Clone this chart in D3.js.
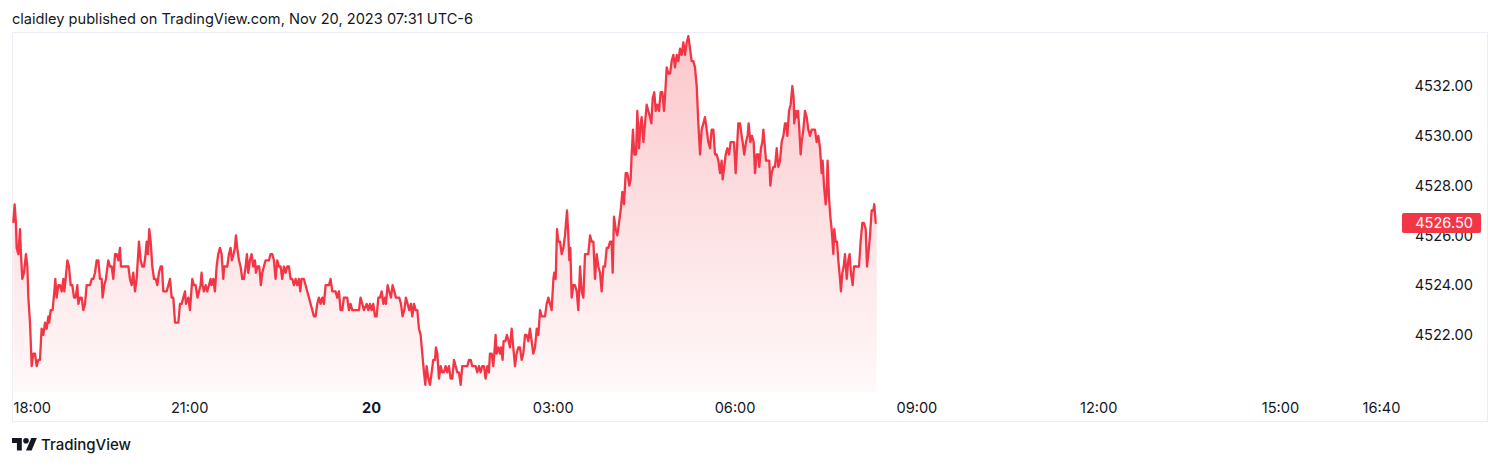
<!DOCTYPE html>
<html><head><meta charset="utf-8">
<script src="https://cdn.jsdelivr.net/npm/d3@7"></script>
<style>
html,body{margin:0;padding:0;background:#fff;}
svg{display:block;font-family:Inter,"Noto Sans",sans-serif;}
</style></head><body>
<svg id="c" width="1500" height="466"></svg>
<script>
const headerText = "claidley published on TradingView.com, Nov 20, 2023 07:31 UTC-6";
const brandText = "TradingView";
const priceTicks = [4522, 4524, 4526, 4528, 4530, 4532];
// minutes after Nov 19 18:00
const timeTicks = [0, 180, 360, 540, 720, 900, 1080, 1260, 1360];
const timeTickLabels = ["18:00", "21:00", "20", "03:00", "06:00", "09:00", "12:00", "15:00", "16:40"];
const boldTicks = ["20"];
const lastPrice = 4526.50;
// [minutes after 18:00, price]
const bars = [
[5.9,4526.5],[7.2,4527.25],[8.5,4526.5],[9.2,4525.5],[10.9,4525.25],[12.5,4526.25],[13.5,4525.25],[14.8,4524.25],[16.5,4524.5],[18.4,4525.25],
[19.8,4524.75],[20.8,4523.5],[22.4,4522.5],[24.1,4520.75],[25.7,4521.25],[27.4,4521.25],[29.0,4520.75],[30.7,4521],[32.3,4521],[33.9,4522.25],
[35.6,4522],[37.3,4522.5],[38.9,4522.25],[40.6,4522.75],[41.5,4522.5],[42.9,4523],[44.8,4523],[46.5,4523.75],[47.5,4524.25],[48.8,4523.5],
[50.5,4524],[52.1,4524],[53.8,4523.75],[55.4,4524.25],[56.4,4523.75],[57.7,4524.25],[59.4,4525],[61.0,4524.75],[62.7,4524],[64.3,4524],
[66.0,4523.5],[67.6,4523.5],[69.3,4524],[70.3,4523.25],[71.9,4523.5],[73.6,4523.5],[75.2,4523],[76.9,4523.25],[78.5,4524],[80.2,4524],
[81.8,4524],[83.5,4524.25],[85.1,4524.25],[86.8,4524.5],[88.4,4525],[90.1,4525],[91.7,4524.25],[93.4,4524.25],[94.3,4523.5],[96.0,4524],
[97.6,4524.25],[99.9,4525],[101.6,4524.75],[103.3,4524.75],[104.9,4524.25],[106.6,4525.25],[108.2,4525.25],[109.9,4525],[111.5,4525.5],[112.5,4524.75],
[114.8,4524.75],[118.1,4524.75],[119.8,4524.75],[121.4,4524.25],[123.1,4524],[124.7,4524.5],[126.4,4523.75],[128.0,4524.25],[130.3,4525.75],[132.0,4525],
[133.6,4524.75],[135.3,4524.75],[136.9,4525.25],[137.9,4525.75],[139.2,4525.25],[140.5,4526.25],[141.9,4525.75],[143.5,4524.75],[145.2,4524.25],[146.8,4524.25],
[148.5,4524],[150.1,4524.5],[151.8,4524.75],[153.1,4524.75],[154.4,4523.75],[157.7,4523.75],[159.4,4524],[161.0,4524.25],[162.7,4523.5],[164.3,4523.5],
[166.0,4522.5],[167.6,4522.5],[169.3,4522.5],[170.9,4523.25],[172.6,4523.25],[174.2,4523.5],[175.9,4523.75],[176.8,4523.25],[179.2,4523.5],[180.8,4523],
[183.1,4524.25],[184.7,4524],[186.4,4524],[188.3,4523.5],[189.7,4523.75],[191.3,4524],[192.3,4524.5],[193.3,4524],[194.6,4523.75],[196.3,4524],
[197.9,4523.75],[199.6,4524],[201.2,4524.25],[202.2,4524],[203.9,4524.25],[205.5,4523.75],[207.2,4524.75],[208.8,4525.25],[210.5,4525.5],[212.1,4525.25],
[213.8,4524.25],[214.7,4524.75],[216.4,4524.75],[217.7,4524.75],[219.4,4525.25],[221.0,4525.5],[222.3,4525],[224.0,4525.25],[225.3,4525.5],[226.3,4526],
[227.6,4525.5],[229.3,4525],[230.9,4524.75],[232.6,4524.25],[234.2,4524.25],[235.9,4524.75],[237.2,4525.25],[238.5,4524.5],[240.2,4525],[241.8,4525.25],
[243.5,4524.75],[245.1,4525],[246.1,4524.5],[247.7,4524.75],[249.4,4524.75],[251.0,4524],[252.4,4524.5],[254.0,4524.75],[255.7,4525],[257.3,4525],
[259.0,4525],[260.6,4525.25],[262.3,4525.25],[263.9,4525],[265.6,4524.25],[267.2,4525],[268.9,4524.75],[270.5,4524.75],[272.2,4524.25],[273.8,4524.75],
[275.5,4524.5],[277.1,4524.75],[278.8,4524.75],[280.4,4524.25],[282.1,4524.25],[283.7,4524],[285.4,4524.25],[287.0,4524],[288.7,4524.25],[290.0,4523.75],
[291.3,4524.25],[293.6,4524.25],[295.3,4524],[296.9,4523.75],[298.6,4523.5],[300.2,4523.25],[301.9,4523],[303.5,4522.75],[305.2,4522.75],[306.8,4523.25],
[308.5,4523.5],[310.1,4523.25],[311.8,4523.5],[313.4,4523.25],[315.1,4524],[316.7,4524],[318.4,4524],[320.0,4524.25],[321.7,4523.75],[323.3,4523.75],
[325.0,4523.75],[326.6,4523.5],[328.3,4523.75],[329.9,4523],[331.6,4523],[333.2,4523.5],[334.9,4523.5],[336.5,4523.5],[338.2,4523],[339.8,4523.25],
[341.5,4523],[343.1,4523],[344.8,4523],[346.4,4523],[348.1,4523],[349.7,4523.5],[351.4,4523.25],[353.0,4523],[355.7,4523.25],[357.4,4523],
[359.0,4523.25],[360.7,4523],[362.3,4523.25],[364.0,4522.75],[365.6,4522.75],[367.3,4523.5],[368.9,4523.5],[370.6,4523.75],[372.2,4523.25],[373.9,4523.5],
[374.8,4523.25],[376.5,4524],[378.1,4523.75],[379.8,4523.5],[381.4,4524],[383.1,4523.75],[384.7,4523.5],[386.4,4523.5],[388.0,4523.5],[389.7,4523.25],
[391.3,4522.75],[393.0,4523],[394.6,4523.5],[396.3,4523.25],[397.9,4523],[399.6,4523.25],[400.9,4522.75],[402.6,4523.25],[404.2,4523],[405.9,4523],
[407.5,4522.25],[409.2,4522],[410.8,4521.25],[412.5,4520.5],[413.8,4520],[415.1,4520.75],[416.8,4520.25],[418.4,4520],[420.1,4520.5],[421.7,4521],
[423.4,4521],[424.3,4521.5],[425.7,4521.25],[427.3,4520.25],[429.0,4520.75],[430.6,4520.5],[432.3,4520.5],[433.9,4520.75],[435.6,4520.5],[437.2,4520.75],
[438.9,4520.25],[440.5,4520.25],[442.2,4521],[443.8,4520.75],[445.5,4520.5],[447.1,4520.5],[448.8,4520],[450.4,4520.75],[452.1,4520.75],[453.7,4520.75],
[455.4,4520.75],[457.0,4521],[458.7,4521],[460.3,4520.75],[462.0,4520.75],[463.6,4520.75],[465.3,4520.5],[466.9,4520.75],[468.6,4520.5],[470.2,4520.75],
[471.9,4520.75],[473.5,4520.25],[475.2,4520.75],[476.8,4520.5],[477.8,4521.25],[479.5,4521.25],[481.1,4520.75],[482.1,4521.25],[483.4,4522],[484.4,4521.25],
[486.1,4521.5],[487.7,4521.25],[488.7,4521.5],[490.3,4521],[491.3,4521.75],[493.0,4521.75],[494.6,4522],[496.3,4521.75],[497.6,4521.5],[499.3,4522.25],
[500.9,4521.5],[502.6,4520.75],[504.2,4521.25],[505.9,4521.5],[507.5,4521.5],[509.2,4521],[510.8,4521.25],[512.5,4522],[514.1,4522],[515.8,4521.75],
[517.4,4522.25],[519.1,4521.75],[520.7,4521.25],[522.4,4521.5],[524.1,4522.25],[525.7,4522],[527.4,4523],[529.0,4522.75],[530.7,4522.75],[532.3,4522.75],
[534.0,4523.25],[535.6,4523.5],[537.3,4523.25],[538.9,4523],[540.6,4524.25],[541.5,4524.5],[542.9,4524.25],[544.2,4526.25],[545.5,4525.75],[547.2,4525.75],
[548.8,4525.25],[550.5,4525.5],[552.1,4526],[554.1,4527],[555.4,4526],[556.4,4525],[557.4,4525.5],[558.7,4523.5],[560.4,4524],[562.0,4524],
[563.7,4523.75],[565.3,4523],[567.0,4524.75],[568.6,4523.75],[570.3,4523.5],[571.9,4525.25],[573.6,4525.25],[575.2,4525.25],[576.9,4526],[578.5,4525.75],
[580.2,4525.75],[581.8,4524.25],[583.5,4525.25],[585.1,4524.75],[586.8,4524.5],[588.4,4523.75],[590.1,4524.75],[591.7,4524.75],[593.4,4525.5],[595.0,4525.5],
[596.7,4525.75],[598.3,4525.75],[599.3,4524.5],[600.6,4526.75],[602.3,4526.25],[603.9,4526],[605.6,4526.5],[607.2,4527],[608.9,4527.75],[610.5,4527.25],
[612.2,4528.5],[613.8,4528.5],[615.8,4528],[617.1,4528.25],[618.1,4529.25],[619.4,4530.25],[620.7,4529.25],[622.4,4529.25],[623.7,4531],[625.4,4529.5],
[627.0,4530.5],[628.0,4530.75],[629.7,4529.75],[631.3,4530.5],[633.0,4531.25],[634.6,4531],[636.3,4530.75],[637.6,4530.5],[638.9,4531.5],[640.5,4531.75],
[641.9,4531],[643.5,4531.25],[645.2,4531],[646.8,4531.75],[648.5,4531.75],[650.1,4531],[651.4,4531.75],[652.8,4532.75],[654.4,4532.5],[656.1,4532.5],
[657.7,4533],[659.4,4533.25],[661.0,4532.75],[662.7,4533.25],[664.3,4533],[666.0,4533.5],[667.6,4533.25],[669.3,4533.75],[670.9,4533.25],[672.6,4533.75],
[674.2,4534],[675.9,4533.5],[677.5,4533],[679.2,4533],[680.8,4532.75],[682.5,4532],[684.1,4530.5],[685.8,4529.25],[687.4,4530.25],[689.1,4530.5],
[690.7,4530.75],[692.4,4530.25],[694.0,4529.75],[695.7,4529.5],[697.3,4530.25],[699.0,4530.25],[700.6,4529.25],[702.3,4529.25],[703.9,4529],[705.6,4528.5],
[707.2,4529],[708.2,4528.25],[709.8,4528.75],[711.2,4529.25],[712.8,4529.5],[714.5,4529.25],[716.1,4529.75],[717.8,4529.75],[719.4,4529.75],[721.1,4528.5],
[722.7,4529.75],[723.7,4530.5],[725.4,4530.5],[727.0,4530],[728.0,4529.75],[729.6,4529.25],[731.3,4529.75],[732.9,4530],[733.9,4530.5],[735.6,4529.75],
[737.2,4530],[738.9,4529.75],[740.2,4528.5],[741.9,4529.25],[743.5,4529.25],[744.5,4528.75],[746.1,4529.5],[747.5,4529.75],[748.5,4530.25],[750.1,4529.5],
[751.1,4529],[752.7,4529],[754.4,4529],[755.4,4528],[756.7,4528.5],[758.4,4528.75],[760.0,4528.75],[761.7,4529.5],[763.3,4528.75],[765.0,4529],
[766.6,4529.75],[768.3,4530],[769.9,4530.5],[770.9,4530.5],[772.2,4530],[773.9,4531],[775.5,4531.25],[777.2,4532],[778.5,4531.5],[779.1,4530.5],
[780.5,4531],[781.5,4530.75],[782.8,4531],[784.1,4530.25],[785.4,4529.25],[786.4,4529.75],[788.1,4530.25],[789.7,4531],[791.4,4530.75],[793.0,4530.25],
[794.7,4530],[796.3,4530.25],[798.0,4530.25],[799.6,4530.25],[801.3,4529.75],[802.9,4530],[804.6,4529.5],[806.2,4528.5],[807.2,4529],[808.5,4528],
[810.2,4527.25],[811.2,4527.75],[812.1,4529],[813.5,4527.5],[814.8,4526.75],[816.1,4526.25],[817.8,4525.25],[818.7,4526.25],[820.1,4525.75],[821.4,4525.75],
[822.7,4525],[824.4,4524.25],[825.3,4523.75],[826.7,4524.5],[828.0,4524.75],[829.3,4525.25],[831.0,4524.25],[832.6,4525],[833.9,4525.25],[835.2,4524.5],
[836.9,4524],[838.2,4524.75],[839.9,4524.75],[841.5,4524.75],[843.2,4524.75],[844.8,4525.75],[846.5,4526.5],[848.1,4526.5],[849.8,4526.25],[851.1,4524.75],
[852.4,4525.25],[854.1,4526],[855.7,4527],[857.4,4527],[858.3,4527.25],[859.7,4526.5],[860.7,4526.5]
];

const svg = d3.select("#c");
const textColor = "#131722";
const red = "#F23645";
const fontSize = 14.6;

const base = new Date(2023, 10, 19, 18, 0);
const toDate = m => new Date(base.getTime() + m * 60000);

const frame = {left: 12, top: 32, right: 1488, bottom: 422};
const plot = {left: 12, right: 1390, top: 32, bottom: 392};

const x = d3.scaleTime().domain([toDate(4.6), toDate(1368.9)]).range([plot.left, plot.right]);
const y = d3.scaleLinear().domain([4519.71, 4534.17]).range([plot.bottom, plot.top]);

// header
svg.append("text").attr("x", 12).attr("y", 23.5)
  .attr("font-size", fontSize).attr("fill", textColor).text(headerText);

// frame
svg.append("rect").attr("x", frame.left + 0.5).attr("y", frame.top + 0.5)
  .attr("width", frame.right - frame.left - 1).attr("height", frame.bottom - frame.top - 1)
  .attr("fill", "none").attr("stroke", "#eceef3").attr("stroke-width", 1);

// gradient
const defs = svg.append("defs");
const grad = defs.append("linearGradient").attr("id", "g")
  .attr("gradientUnits", "userSpaceOnUse")
  .attr("x1", 0).attr("x2", 0)
  .attr("y1", y(d3.max(bars, d => d[1]))).attr("y2", plot.bottom);
grad.append("stop").attr("offset", 0).attr("stop-color", red).attr("stop-opacity", 0.28);
grad.append("stop").attr("offset", 1).attr("stop-color", red).attr("stop-opacity", 0.03);

const area = d3.area().x(d => x(toDate(d[0]))).y0(plot.bottom).y1(d => y(d[1]));
const line = d3.line().x(d => x(toDate(d[0]))).y(d => y(d[1]));

svg.append("path").datum(bars).attr("d", area).attr("fill", "url(#g)");
svg.append("path").datum(bars).attr("d", line).attr("fill", "none")
  .attr("stroke", red).attr("stroke-width", 2.3).attr("stroke-linejoin", "round");

// y axis
const yAxis = d3.axisRight(y).tickValues(priceTicks).tickFormat(d => d.toFixed(2)).tickSize(0).tickPadding(0);
const gy = svg.append("g").attr("transform", `translate(1473,0)`).call(yAxis);
gy.select(".domain").remove();
gy.selectAll("text").attr("text-anchor", "end").attr("font-size", fontSize)
  .attr("font-family", "Inter").attr("fill", textColor);

// price label
const py = y(lastPrice);
svg.append("rect").attr("x", 1402).attr("y", py - 10).attr("width", 79).attr("height", 20)
  .attr("rx", 2).attr("fill", red);
svg.append("text").attr("x", 1473).attr("y", py).attr("dy", "0.35em").attr("text-anchor", "end")
  .attr("font-size", fontSize).attr("fill", "#fff").text(lastPrice.toFixed(2));

// x axis
const xAxis = d3.axisBottom(x).tickValues(timeTicks.map(toDate))
  .tickFormat((d, i) => timeTickLabels[i]).tickSize(0).tickPadding(0);
const gx = svg.append("g").attr("transform", `translate(0,${plot.bottom})`).call(xAxis);
gx.select(".domain").remove();
gx.selectAll("text").attr("font-size", fontSize).attr("font-family", "Inter").attr("fill", textColor)
  .attr("dy", null).attr("y", 20.5)
  .attr("font-weight", d => boldTicks.includes(timeTickLabels[timeTicks.map(toDate).findIndex(t => +t === +d)]) ? 700 : 400);
gx.selectAll(".tick").each(function(d) {
  const t = d3.select(this).select("text");
  const w = t.node().getComputedTextLength();
  const px = x(d);
  if (px - w / 2 < frame.left + 1) {
    t.attr("text-anchor", "start").attr("x", frame.left + 1 - px);
  }
});

// brand
const logo = svg.append("g").attr("transform", "translate(12,435.2) scale(0.7)").attr("fill", textColor);
logo.append("path").attr("d", "M14 22H7V11H0V4h14v18z");
logo.append("circle").attr("cx", 20).attr("cy", 8).attr("r", 4);
logo.append("path").attr("d", "M28 22h-8l7.5-18h8L28 22z");
svg.append("text").attr("x", 41).attr("y", 449.5).attr("font-size", 15).attr("font-weight", 500)
  .attr("fill", textColor).text(brandText);
</script>
</body></html>
